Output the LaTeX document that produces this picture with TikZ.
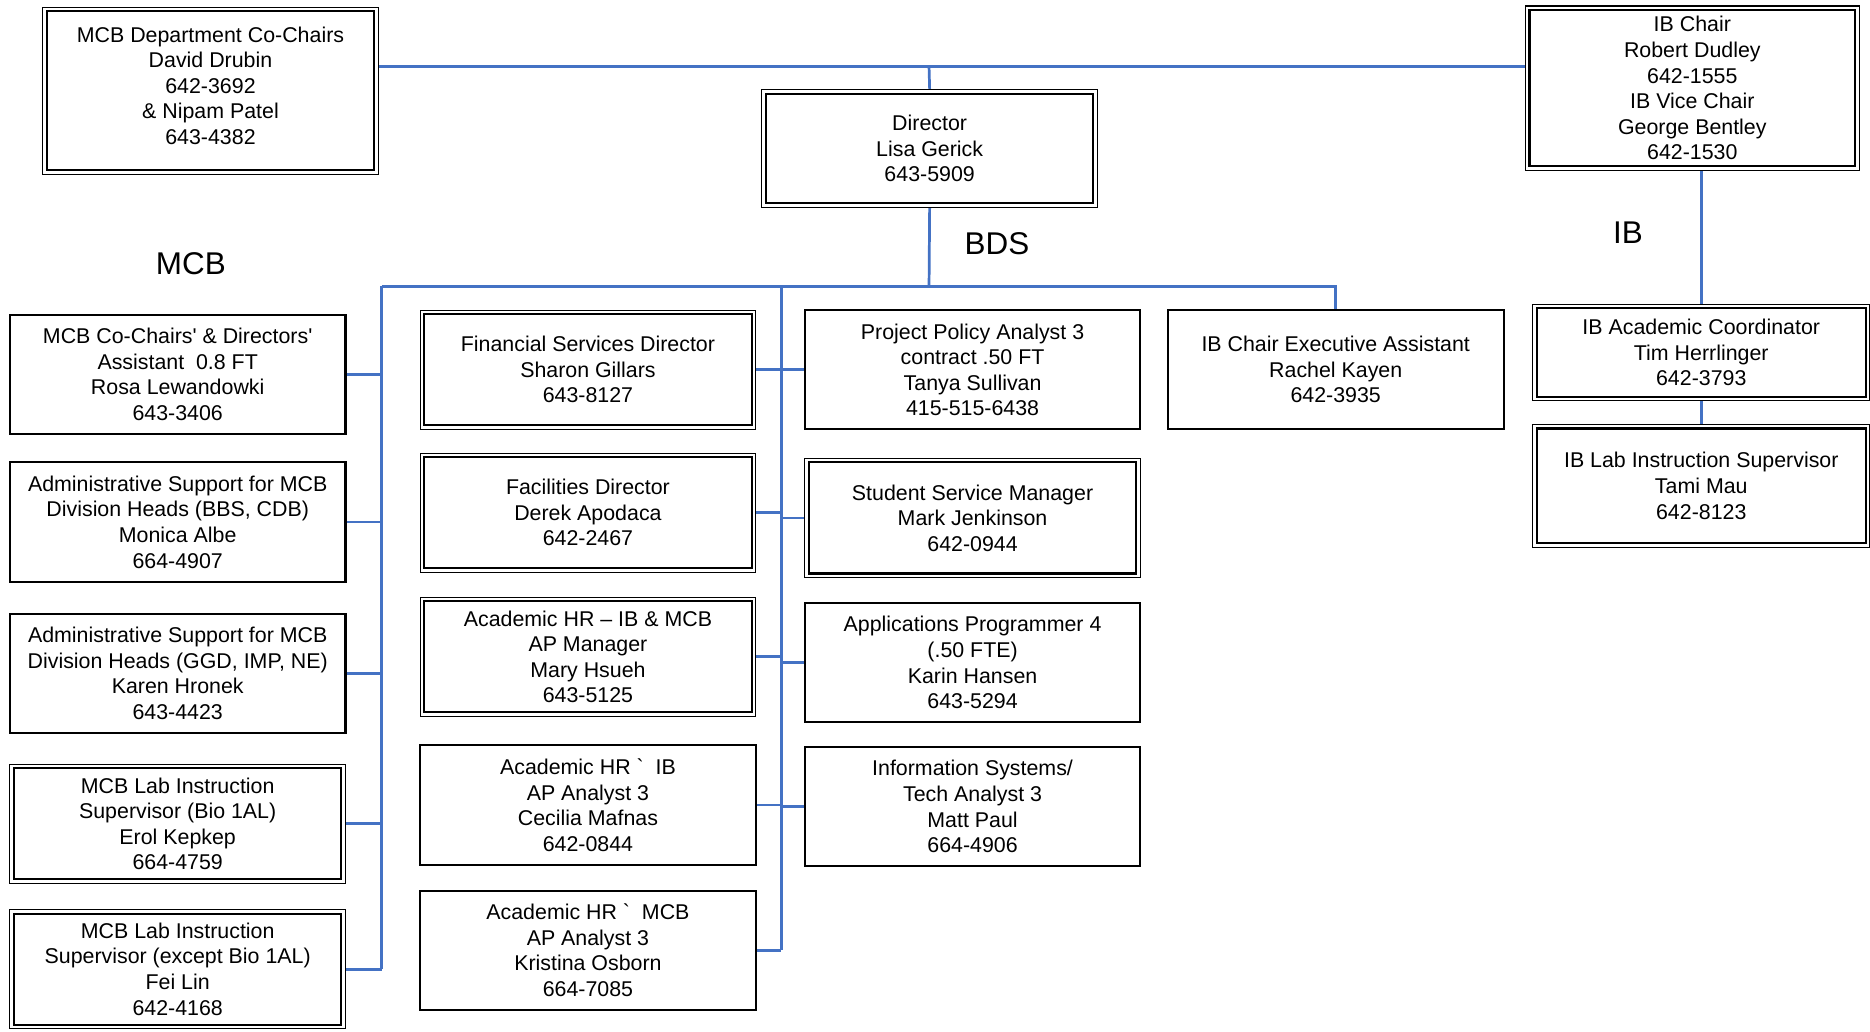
\documentclass[tikz,border=0pt]{standalone}
\usepackage{fontspec}
\setmainfont{Liberation Sans}
\usetikzlibrary{positioning}
\definecolor{linkblue}{RGB}{68,114,196}

\begin{document}
\begin{tikzpicture}[x=0.02cm, y=-0.02cm, node distance=0.44cm,
    font=\fontsize{10.2pt}{12.2pt}\selectfont]

    \tikzstyle{box} = [rectangle, draw, line width=1pt, minimum width=5.63cm, minimum height=2cm, inner sep=2pt, align=center]
    \tikzstyle{dbox} = [box, line width=0.5pt, append after command={\pgfextra{\draw[line width=1pt] ([xshift=2.2pt,yshift=-2.2pt]\tikzlastnode.north west) rectangle ([xshift=-2.2pt,yshift=2.2pt]\tikzlastnode.south east);}}]
    \tikzstyle{link} = [linkblue, line width=1.3pt]
    \tikzstyle{unit} = [font=\fontsize{15pt}{18pt}\selectfont]

    \useasboundingbox (0,0) rectangle (1568,864.5);

    % heads
    \node [dbox, minimum height=2.8cm, text depth=5pt] (cochairs) at (176.5,76) {MCB Department Co-Chairs\\David Drubin\\642-3692\\\& Nipam Patel\\643-4382};
    \node [dbox, minimum height=1.98cm] (director) at (779.5,124.5) {Director\\Lisa Gerick\\643-5909};
    \node [dbox, minimum width=5.6cm, minimum height=2.76cm] (ibchair) at (1419,74) {IB Chair\\Robert Dudley\\642-1555\\IB Vice Chair\\George Bentley\\642-1530};

    \node [unit] (mcblabel) at (160,221) {MCB};
    \node [unit] (bdslabel) at (836,204) {BDS};
    \node [unit] (iblabel) at (1365,195) {IB};

    % MCB column
    \node [box] (rosa) at (149,314) {MCB Co-Chairs\textquotesingle{} \& Directors\textquotesingle\\Assistant\ \ 0.8 FT\\Rosa Lewandowki\\643-3406};
    \node [box, below=0.44cm of rosa] (monica) {Administrative Support for MCB\\Division Heads (BBS, CDB)\\Monica Albe\\664-4907};
    \node [box, below=0.50cm of monica] (karen) {Administrative Support for MCB\\Division Heads (GGD, IMP, NE)\\Karen Hronek\\643-4423};
    \node [dbox, below=0.50cm of karen] (erol) {MCB Lab Instruction\\Supervisor (Bio 1AL)\\Erol Kepkep\\664-4759};
    \node [dbox, below=0.42cm of erol] (fei) {MCB Lab Instruction\\Supervisor (except Bio 1AL)\\Fei Lin\\642-4168};

    % BDS columns
    \node [dbox] (sharon) at (493,310) {Financial Services Director\\Sharon Gillars\\643-8127};
    \node [dbox, below=0.38cm of sharon] (derek) {Facilities Director\\Derek Apodaca\\642-2467};
    \node [dbox, below=0.40cm of derek] (mary) {Academic HR -- IB \& MCB\\AP Manager\\Mary Hsueh\\643-5125};
    \node [box, below=0.46cm of mary] (cecilia) {Academic HR \textasciigrave\ \ IB\\AP Analyst 3\\Cecilia Mafnas\\642-0844};
    \node [box, below=0.40cm of cecilia] (kristina) {Academic HR \textasciigrave\ \ MCB\\AP Analyst 3\\Kristina Osborn\\664-7085};

    \node [box] (tanya) at (815.5,310) {Project Policy Analyst 3\\contract .50 FT\\Tanya Sullivan\\415-515-6438};
    \node [dbox, below=0.46cm of tanya] (mark) {Student Service Manager\\Mark Jenkinson\\642-0944};
    \node [box, below=0.40cm of mark] (karin) {Applications Programmer 4\\(.50 FTE)\\Karin Hansen\\643-5294};
    \node [box, below=0.38cm of karin] (matt) {Information Systems/\\Tech Analyst 3\\Matt Paul\\664-4906};

    \node [box] (rachel) at (1120,310) {IB Chair Executive Assistant\\Rachel Kayen\\642-3935};

    % IB column
    \node [dbox, minimum width=5.66cm, minimum height=1.62cm] (tim) at (1426.5,295.5) {IB Academic Coordinator\\Tim Herrlinger\\642-3793};
    \node [dbox, minimum width=5.66cm, minimum height=2.06cm, below=0.38cm of tim] (tami) {IB Lab Instruction Supervisor\\Tami Mau\\642-8123};

    % lines
    \coordinate (top) at (779,56);
    \coordinate (bds) at (779,240);
    \coordinate (mcbbus) at (320,240);
    \coordinate (bdsbus) at (655,240);

    \draw [link] (cochairs.east |- top) -- (ibchair.west |- top);
    \draw [link] (top) -- (director.north);
    \draw [link] (director.south) -- (bds);
    \draw [link] (mcbbus) -- (rachel.north |- bds) -- (rachel.north);

    \draw [link] (mcbbus) -- (mcbbus |- fei.east);
    \foreach \n in {rosa, monica, karen, erol, fei}
        \draw [link] (\n.east) -- (mcbbus |- \n.east);

    \draw [link] (bdsbus) -- (bdsbus |- kristina.east);
    \foreach \n in {sharon, derek, mary, cecilia, kristina}
        \draw [link] (\n.east) -- (\n.east -| bdsbus);
    \foreach \n in {tanya, mark, karin, matt}
        \draw [link] (\n.west) -- (\n.west -| bdsbus);

    \draw [link] (tim.north) -- (tim.north |- ibchair.south);
    \draw [link] (tim.south) -- (tami.north);

\end{tikzpicture}
\end{document}
